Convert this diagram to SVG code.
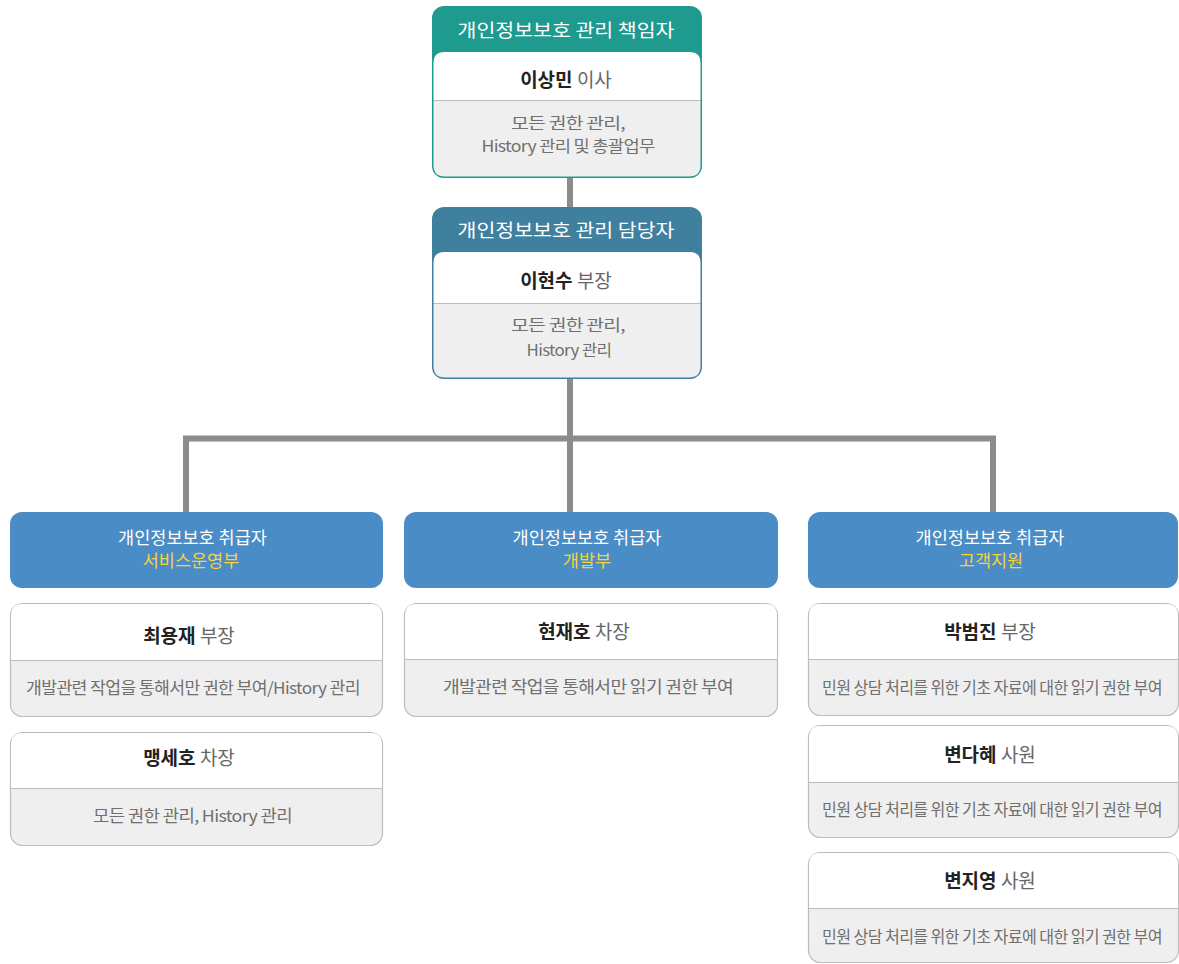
<svg xmlns="http://www.w3.org/2000/svg" width="1179" height="964" viewBox="0 0 1179 964">
<style>
text{font-family:"Noto Sans CJK KR","Noto Sans",sans-serif;text-anchor:middle}
.hd{fill:#fff;font-size:18.5px}
.hb{fill:#fff;font-size:17.5px}
.yl{fill:#f6d23c;font-size:17.5px}
.nm{fill:#222;font-size:19px;font-weight:bold}
.tt{fill:#666;font-weight:normal}
.ds{fill:#707070;font-size:16.5px;letter-spacing:-0.6px}
.d2{font-size:15.5px}
.card{fill:#efefef;stroke:#bdbdbd;stroke-width:1.2}
.cw{fill:#fff}
.dv{stroke:#bdbdbd;stroke-width:1.2}
.blue{fill:#4a8cc6}
.conn{stroke:#8c8c8c;stroke-width:6;fill:none}
</style>
<g id="connectors">
<line class="conn" x1="570" y1="176" x2="570" y2="209"/>
<line class="conn" x1="570" y1="376" x2="570" y2="514"/>
<polyline class="conn" points="186,514 186,438.5 993,438.5 993,514"/>
</g>
<g id="n-chief">
<rect x="432" y="6" width="270" height="172" rx="12" fill="#1e9a8f"/>
<path d="M433.5,63 Q433.5,52 444.5,52 H689.5 Q700.5,52 700.5,63 V100 H433.5 Z" fill="#fff"/>
<path d="M433.5,101 H700.5 V165 Q700.5,176.5 689,176.5 H445 Q433.5,176.5 433.5,165 Z" fill="#efefef"/>
<line x1="433.5" y1="100.5" x2="700.5" y2="100.5" class="dv"/>
<text x="566" y="37" class="hd" textLength="217" lengthAdjust="spacingAndGlyphs">개인정보보호 관리 책임자</text>
<text x="566" y="87" class="nm">이상민 <tspan class="tt">이사</tspan></text>
<text x="568" y="129" class="ds d2" textLength="114" lengthAdjust="spacingAndGlyphs">모든 권한 관리,</text>
<text x="568" y="152" class="ds d2" textLength="173" lengthAdjust="spacingAndGlyphs">History 관리 및 총괄업무</text>
</g>
<g id="n-manager">
<rect x="432" y="207" width="270" height="172" rx="12" fill="#40809f"/>
<path d="M433.5,263 Q433.5,252 444.5,252 H689.5 Q700.5,252 700.5,263 V303 H433.5 Z" fill="#fff"/>
<path d="M433.5,304 H700.5 V366 Q700.5,377.5 689,377.5 H445 Q433.5,377.5 433.5,366 Z" fill="#efefef"/>
<line x1="433.5" y1="303.5" x2="700.5" y2="303.5" class="dv"/>
<text x="566" y="237" class="hd" textLength="217" lengthAdjust="spacingAndGlyphs">개인정보보호 관리 담당자</text>
<text x="566" y="288" class="nm">이현수 <tspan class="tt">부장</tspan></text>
<text x="568" y="331" class="ds d2" textLength="114" lengthAdjust="spacingAndGlyphs">모든 권한 관리,</text>
<text x="569" y="356" class="ds d2" textLength="85" lengthAdjust="spacingAndGlyphs">History 관리</text>
</g>
<g id="h-service">
<rect x="10" y="512" width="373" height="76" rx="12" class="blue"/>
<text x="192.5" y="544" class="hb">개인정보보호 취급자</text>
<text x="191" y="567" class="yl">서비스운영부</text>
</g>
<g id="h-dev">
<rect x="404" y="512" width="374" height="76" rx="12" class="blue"/>
<text x="587" y="544" class="hb">개인정보보호 취급자</text>
<text x="587" y="567" class="yl">개발부</text>
</g>
<g id="h-cs">
<rect x="808" y="512" width="370" height="76" rx="12" class="blue"/>
<text x="990" y="544" class="hb">개인정보보호 취급자</text>
<text x="991" y="567" class="yl">고객지원</text>
</g>
<g id="c-choi">
<rect x="10.5" y="603.5" width="372" height="113" rx="12" class="card"/>
<path d="M11.1,660 V615.5 Q11.1,604.1 22.5,604.1 H370.5 Q381.9,604.1 381.9,615.5 V660 Z" class="cw"/>
<line x1="11" y1="660.5" x2="382" y2="660.5" class="dv"/>
<text x="189" y="643" class="nm">최용재 <tspan class="tt">부장</tspan></text>
<text x="193" y="694" class="ds" textLength="334" lengthAdjust="spacingAndGlyphs">개발관련 작업을 통해서만 권한 부여/History 관리</text>
</g>
<g id="c-maeng">
<rect x="10.5" y="732.5" width="372" height="113" rx="12" class="card"/>
<path d="M11.1,788 V744.5 Q11.1,733.1 22.5,733.1 H370.5 Q381.9,733.1 381.9,744.5 V788 Z" class="cw"/>
<line x1="11" y1="788.5" x2="382" y2="788.5" class="dv"/>
<text x="189" y="765" class="nm">맹세호 <tspan class="tt">차장</tspan></text>
<text x="192.5" y="822" class="ds" textLength="199" lengthAdjust="spacingAndGlyphs">모든 권한 관리, History 관리</text>
</g>
<g id="c-hyun">
<rect x="404.5" y="603.5" width="373" height="113" rx="12" class="card"/>
<path d="M405.1,659 V615.5 Q405.1,604.1 416.5,604.1 H765.5 Q776.9,604.1 776.9,615.5 V659 Z" class="cw"/>
<line x1="405" y1="659.5" x2="777" y2="659.5" class="dv"/>
<text x="584" y="639" class="nm">현재호 <tspan class="tt">차장</tspan></text>
<text x="588" y="693" class="ds" textLength="290" lengthAdjust="spacingAndGlyphs">개발관련 작업을 통해서만 읽기 권한 부여</text>
</g>
<g id="c-park">
<rect x="808.5" y="603.5" width="370" height="112" rx="12" class="card"/>
<path d="M809.1,659 V615.5 Q809.1,604.1 820.5,604.1 H1166.5 Q1177.9,604.1 1177.9,615.5 V659 Z" class="cw"/>
<line x1="809" y1="659.5" x2="1178" y2="659.5" class="dv"/>
<text x="990" y="639" class="nm">박범진 <tspan class="tt">부장</tspan></text>
<text x="992" y="694" class="ds" textLength="340" lengthAdjust="spacingAndGlyphs">민원 상담 처리를 위한 기초 자료에 대한 읽기 권한 부여</text>
</g>
<g id="c-byun1">
<rect x="808.5" y="725.5" width="370" height="112" rx="12" class="card"/>
<path d="M809.1,782 V737.5 Q809.1,726.1 820.5,726.1 H1166.5 Q1177.9,726.1 1177.9,737.5 V782 Z" class="cw"/>
<line x1="809" y1="782.5" x2="1178" y2="782.5" class="dv"/>
<text x="990" y="762" class="nm">변다혜 <tspan class="tt">사원</tspan></text>
<text x="992" y="816" class="ds" textLength="340" lengthAdjust="spacingAndGlyphs">민원 상담 처리를 위한 기초 자료에 대한 읽기 권한 부여</text>
</g>
<g id="c-byun2">
<rect x="808.5" y="852.5" width="370" height="110" rx="12" class="card"/>
<path d="M809.1,908 V864.5 Q809.1,853.1 820.5,853.1 H1166.5 Q1177.9,853.1 1177.9,864.5 V908 Z" class="cw"/>
<line x1="809" y1="908.5" x2="1178" y2="908.5" class="dv"/>
<text x="990" y="888" class="nm">변지영 <tspan class="tt">사원</tspan></text>
<text x="992" y="943" class="ds" textLength="340" lengthAdjust="spacingAndGlyphs">민원 상담 처리를 위한 기초 자료에 대한 읽기 권한 부여</text>
</g>
</svg>
